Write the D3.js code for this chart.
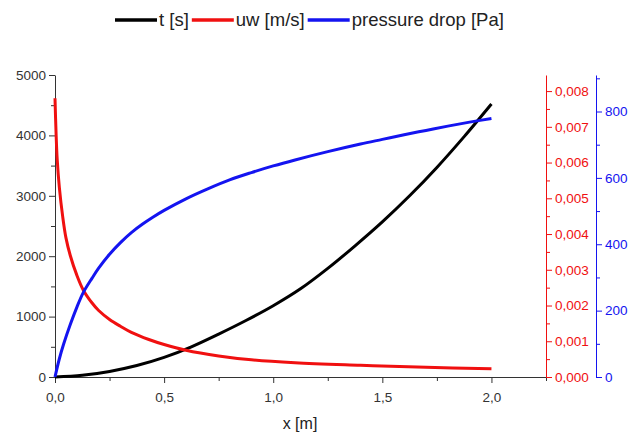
<!DOCTYPE html>
<html>
<head>
<meta charset="utf-8">
<script src="https://cdn.jsdelivr.net/npm/d3@7"></script>
<style>
  body { margin: 0; background: #fff; }
  svg { font-family: "Liberation Sans", Arial, sans-serif; }
</style>
</head>
<body>
<svg id="chart" width="632" height="432"></svg>
<script>
// series
const tX = [0, 0.125, 0.25, 0.375, 0.5, 0.625, 0.75, 0.875, 1.0, 1.125, 1.25, 1.375, 1.5, 1.625, 1.75, 1.875, 2.0];
const tVals = [0, 28, 92, 190, 325, 500, 710, 935, 1180, 1460, 1798, 2172, 2568, 3000, 3470, 3980, 4520];

const uwX = [0, 0.005, 0.01, 0.02, 0.035, 0.05, 0.07, 0.1, 0.13, 0.17, 0.2, 0.25, 0.3, 0.35, 0.43, 0.5, 0.6, 0.75, 0.9, 1.1, 1.4, 1.7, 2.0];
const uwVals = [0.0078, 0.0068, 0.0061, 0.0053, 0.0045, 0.0039, 0.0034, 0.00285, 0.00243, 0.00207, 0.00186, 0.00161, 0.00142, 0.00125, 0.00105, 0.00091, 0.00075, 0.00059, 0.00048, 0.0004, 0.00033, 0.00027, 0.00023];

const dpX = [0, 0.02, 0.04, 0.07, 0.1, 0.13, 0.17, 0.2, 0.25, 0.3, 0.35, 0.4, 0.45, 0.5, 0.6, 0.7, 0.8, 0.9, 1.0, 1.1, 1.25, 1.4, 1.5, 1.6, 1.7, 1.8, 1.9, 2.0];
const dpVals = [0, 55, 100, 158, 210, 255, 298, 328, 370, 405, 435, 460, 482, 502, 537, 567, 594, 616, 636, 654, 679, 702, 716, 730, 743, 756, 768, 779];

const xTicks = [0, 0.5, 1.0, 1.5, 2.0];
const tTicks = [0, 1000, 2000, 3000, 4000, 5000];
const uwTicks = [0, 0.001, 0.002, 0.003, 0.004, 0.005, 0.006, 0.007, 0.008];
const dpTicks = [0, 200, 400, 600, 800];

const legendNames = ["t [s]", "uw [m/s]", "pressure drop [Pa]"];
const colors = ["#000000", "#f01010", "#1414f0"];

const svg = d3.select("#chart");
const plotLeft = 55, plotRight = 546, plotTop = 75, plotBottom = 377;
const dpAxisX = 596;

const x = d3.scaleLinear().domain([0, 2.25]).range([plotLeft, plotRight]);
const yT = d3.scaleLinear().domain([0, 5000]).range([plotBottom, plotTop]);
const yUw = d3.scaleLinear().domain([0, 0.00845]).range([plotBottom, plotTop]);
const yDp = d3.scaleLinear().domain([0, 910]).range([plotBottom, plotTop]);

const comma = f => v => d3.format(f)(v).replace(".", ",");

// minor ticks
function minor(g, axis) { g.call(axis); g.selectAll("text").remove(); g.select(".domain").remove(); }

svg.append("g").attr("transform", `translate(0,${plotBottom})`).attr("color", "#333")
  .call(minor, d3.axisBottom(x).tickValues(d3.range(0.25, 2.3, 0.5)).tickSize(4));
svg.append("g").attr("transform", `translate(${plotLeft},0)`).attr("color", "#333")
  .call(minor, d3.axisLeft(yT).tickValues(d3.range(500, 5000, 1000)).tickSize(4));
svg.append("g").attr("transform", `translate(${plotRight},0)`).attr("color", colors[1])
  .call(minor, d3.axisRight(yUw).tickValues(d3.range(0.0005, 0.0084, 0.001)).tickSize(4));
svg.append("g").attr("transform", `translate(${dpAxisX},0)`).attr("color", colors[2])
  .call(minor, d3.axisRight(yDp).tickValues(d3.range(100, 910, 200)).tickSize(4));

// main axes
const xAxis = svg.append("g").attr("transform", `translate(0,${plotBottom})`).attr("color", "#333")
  .call(d3.axisBottom(x).tickValues(xTicks).tickFormat(comma(".1f")).tickSize(6).tickSizeOuter(0));
xAxis.selectAll("text").attr("dy", "1.15em");

svg.append("g").attr("transform", `translate(${plotLeft},0)`).attr("color", "#333")
  .call(d3.axisLeft(yT).tickValues(tTicks).tickFormat(d3.format("d")).tickSize(6).tickSizeOuter(0));

svg.append("g").attr("transform", `translate(${plotRight},0)`).attr("color", colors[1])
  .call(d3.axisRight(yUw).tickValues(uwTicks).tickFormat(comma(".3f")).tickSize(6).tickSizeOuter(0));

svg.append("g").attr("transform", `translate(${dpAxisX},0)`).attr("color", colors[2])
  .call(d3.axisRight(yDp).tickValues(dpTicks).tickFormat(d3.format("d")).tickSize(6).tickSizeOuter(0));

svg.selectAll(".tick text").attr("font-size", 13.5).attr("font-family", "Liberation Sans, Arial, sans-serif");

// curves
const series = [
  { xs: tX, ys: tVals, y: yT },
  { xs: uwX, ys: uwVals, y: yUw },
  { xs: dpX, ys: dpVals, y: yDp }
];
series.forEach(function (s, i) {
  let line = d3.line()
    .x((d, j) => x(s.xs[j]))
    .y(d => s.y(d))
    .curve(d3.curveCatmullRom.alpha(0.5));
  svg.append("path")
    .attr("d", line(s.ys))
    .attr("fill", "none")
    .attr("stroke", colors[i])
    .attr("stroke-width", 3);
});

// x label
svg.append("text").attr("x", 300).attr("y", 429)
  .attr("text-anchor", "middle").attr("font-size", 16).attr("fill", "#222")
  .text("x [m]");

// legend
let lx = 115;
legendNames.forEach(function (name, i) {
  svg.append("line").attr("x1", lx).attr("x2", lx + 42).attr("y1", 20).attr("y2", 20)
    .attr("stroke", colors[i]).attr("stroke-width", 3.5);
  let t = svg.append("text").attr("x", lx + 44).attr("y", 26)
    .attr("font-size", 18.5).attr("fill", "#222").text(name);
  lx = lx + 44 + t.node().getComputedTextLength() + 3;
});
</script>
</body>
</html>
